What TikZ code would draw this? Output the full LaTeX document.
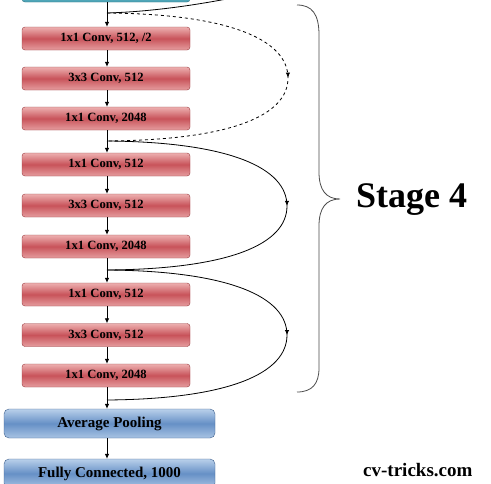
\documentclass[tikz,border=0pt]{standalone}
\usepackage{fontspec}
\setmainfont{Liberation Serif}
\usetikzlibrary{arrows.meta,decorations.markings}
\definecolor{redtop}{HTML}{EDB0B0}
\definecolor{redmid}{HTML}{C8535A}
\definecolor{redline}{HTML}{9A3A3E}
\definecolor{bluetop}{HTML}{B9D0EA}
\definecolor{bluemid}{HTML}{6690C6}
\definecolor{blueline}{HTML}{3C5E8C}
\definecolor{tealfill}{HTML}{4FA6B8}
\definecolor{tealline}{HTML}{2A6E7E}
\tikzset{
  convbox/.style={draw=redline,rounded corners=3pt,top color=redtop,bottom color=redtop!80!redmid,middle color=redmid,
    minimum width=168pt,minimum height=23pt,inner sep=0pt,font=\fontsize{12.6}{12.6}\selectfont\bfseries},
  poolbox/.style={draw=blueline,rounded corners=5pt,top color=bluetop,bottom color=bluetop!80!bluemid,middle color=bluemid,
    minimum width=211pt,minimum height=29pt,inner sep=0pt,font=\fontsize{15}{15}\selectfont\bfseries},
  flow/.style={-{Latex[length=5pt,width=4.5pt]},line width=0.8pt},
  skip/.style={line width=0.8pt,postaction={decorate},decoration={markings,mark=at position 0.5 with {\arrow{Latex[length=5pt,width=4.5pt]}}}}
}
\begin{document}
\begin{tikzpicture}[x=1pt,y=-1pt]
\useasboundingbox[fill=white] (0,0) rectangle (491,483);
% previous block
\node[draw=tealline,fill=tealfill,rounded corners=3pt,minimum width=168pt,minimum height=20pt] (prev) at (106,-8) {};
% stage 4 layers
\node[convbox] (c1) at (106,38.5) {1x1 Conv, 512, /2};
\node[convbox] (c2) at (106,78.5) {3x3 Conv, 512};
\node[convbox] (c3) at (106,118.5) {1x1 Conv, 2048};
\node[convbox] (c4) at (106,164.5) {1x1 Conv, 512};
\node[convbox] (c5) at (106,205.5) {3x3 Conv, 512};
\node[convbox] (c6) at (106,246.5) {1x1 Conv, 2048};
\node[convbox] (c7) at (106,294.5) {1x1 Conv, 512};
\node[convbox] (c8) at (106,335) {3x3 Conv, 512};
\node[convbox] (c9) at (106,375.5) {1x1 Conv, 2048};
\node[poolbox] (avg) at (109.5,423.5) {Average Pooling};
\node[poolbox] (fc) at (109.5,473.5) {Fully Connected, 1000};
% junctions
\coordinate (j0) at (107,13);
\coordinate (j1) at (107,141);
\coordinate (j2) at (107,270);
\coordinate (j3) at (107,400);
\coordinate (in) at (232,-2);
% main path
\draw[line width=0.8pt] (prev.south -| j0) -- (j0);
\draw[flow] (j0) -- (c1.north -| j0);
\draw[flow] (c1.south -| j0) -- (c2.north -| j0);
\draw[flow] (c2.south -| j0) -- (c3.north -| j0);
\draw[line width=0.8pt] (c3.south -| j0) -- (j1);
\draw[flow] (j1) -- (c4.north -| j0);
\draw[flow] (c4.south -| j0) -- (c5.north -| j0);
\draw[flow] (c5.south -| j0) -- (c6.north -| j0);
\draw[line width=0.8pt] (c6.south -| j0) -- (j2);
\draw[flow] (j2) -- (c7.north -| j0);
\draw[flow] (c7.south -| j0) -- (c8.north -| j0);
\draw[flow] (c8.south -| j0) -- (c9.north -| j0);
\draw[line width=0.8pt] (c9.south -| j0) -- (j3);
\draw[flow] (j3) -- (avg.north -| j0);
\draw[flow] (avg.south -| j0) -- (fc.north -| j0);
% shortcuts
\draw[line width=0.8pt] (in) .. controls (180,8) and (140,12) .. (j0);
\draw[skip,dashed] (j0) .. controls (230,14) and (288,40) .. (288,78) .. controls (288,116) and (230,140) .. (j1);
\draw[skip] (j1) .. controls (230,142) and (287,168) .. (287,206) .. controls (287,244) and (230,269) .. (j2);
\draw[skip] (j2) .. controls (230,271) and (287,297) .. (287,335) .. controls (287,373) and (230,399) .. (j3);
% brace
\draw[black!70,line width=0.8pt] (297,5) .. controls (312,5) and (319,14) .. (319,35) -- (319,172)
  .. controls (319,190) and (326,199) .. (340,199) .. controls (326,199) and (319,208) .. (319,226)
  -- (319,368) .. controls (319,384) and (312,392) .. (297,392);
\node[font=\fontsize{36}{36}\selectfont\bfseries,anchor=west,inner sep=0pt] (stage) at (356,200) {Stage 4};
\node[font=\fontsize{19}{19}\selectfont\bfseries,anchor=west,inner sep=0pt] (site) at (363,470) {cv-tricks.com};
\end{tikzpicture}
\end{document}
